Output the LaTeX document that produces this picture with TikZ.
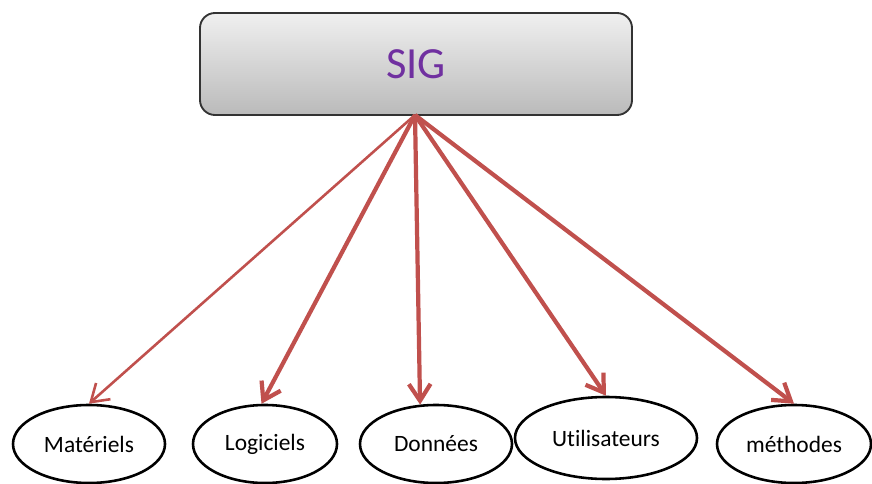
\documentclass[tikz,border=0pt]{standalone}
\usepackage{fontspec}
\setmainfont{Carlito}[Ligatures=NoCommon]
\usetikzlibrary{arrows.meta,shapes.geometric}
\definecolor{sigpurple}{HTML}{7030A0}
\definecolor{arrowred}{HTML}{C0504D}
\begin{document}
\begin{tikzpicture}[
        x=0.03cm, y=-0.03cm,
        sigbox/.style={draw=black!80, line width=1.6pt, rounded corners=0.45cm,
            top color=black!6, bottom color=black!27,
            minimum width=12.96cm, minimum height=3.06cm,
            font=\fontsize{38}{42}\selectfont, text=sigpurple},
        part/.style={ellipse, draw, line width=2.2pt, inner sep=0pt,
            minimum height=2.34cm, font=\fontsize{20}{22}\selectfont},
        link/.style={arrowred, line width=3.6pt,
            -{Straight Barb[length=5mm,width=6.5mm]}}
    ]
    \useasboundingbox (0,0) rectangle (872,484);
    \node[sigbox] (sig) at (416,64) {SIG};
    \coordinate (hub) at (415,115);
    \node[part, minimum width=4.56cm] (mat) at (89,444) {Matériels};
    \node[part, minimum width=4.32cm] (log) at (265,444) {Logiciels};
    \node[part, minimum width=4.56cm] (don) at (436,444) {Données};
    \node[part, minimum width=5.46cm, minimum height=2.46cm] (uti) at (606,438) {Utilisateurs};
    \node[part, minimum width=4.62cm] (met) at (794,444) {méthodes};
    \draw[link, line width=2.2pt] (hub) -- (mat.north);
    \draw[link] (hub) -- (log.95);
    \draw[link] (hub) -- (don.112);
    \draw[link] (hub) -- (uti.north);
    \draw[link] (hub) -- (met.north);
\end{tikzpicture}
\end{document}
